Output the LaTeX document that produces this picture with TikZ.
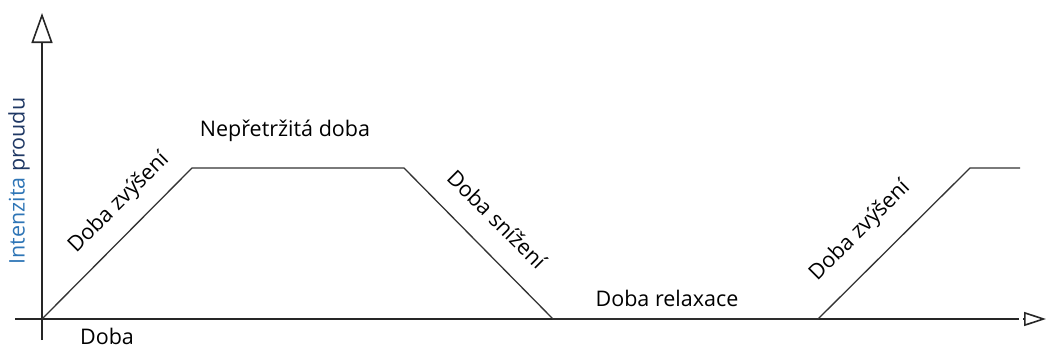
\documentclass[tikz,border=0pt]{standalone}
\usepackage{fontspec}
\setmainfont{Open Sans}
\usetikzlibrary{arrows.meta}
\definecolor{axblue}{RGB}{46,117,182}
\definecolor{axnavy}{RGB}{31,56,100}
\begin{document}
\begin{tikzpicture}[x=1pt, y=-1pt, font=\fontsize{21.5}{24}\selectfont,
		lbl/.style={inner sep=0pt},
		l_1/.style={line width=1.6pt, draw=black!85},
		l_2/.style={line width=1.3pt, draw=black!80}]
	\useasboundingbox (0,0) rectangle (1046,349);
	% axes
	\coordinate (O) at (42,319);
	\coordinate (ytop) at (42,13);
	\coordinate (ybot) at (42,340);
	\coordinate (xl) at (15,319);
	\coordinate (xe) at (1019,319);
	\coordinate (xa) at (1023,319);
	\coordinate (xr) at (1046,319);
	\draw[l_1, -{Triangle[open, length=30pt, width=21pt]}] (ybot) -- (ytop);
	\draw[l_1] (xl) -- (xe);
	\draw[l_1, -{Triangle[open, length=22pt, width=14pt]}] (xa) -- (xr);
	
	% current profile
	\coordinate (a1) at (192,168);
	\coordinate (a2) at (404,168);
	\coordinate (a3) at (553,319);
	\coordinate (a4) at (818,319);
	\coordinate (a5) at (970,168);
	\coordinate (a6) at (1020,168);
	\draw[l_2] (O) -- (a1) -- (a2) -- (a3) -- (a4) -- (a5) -- (a6);
	
	% labels
	\node[lbl, rotate=90] (intens) at (19,181) {\textcolor{axblue}{Intenzita} \textcolor{axnavy}{proudu}};
	\node[lbl] (cont) at (285,131) {Nepřetržitá doba};
	\node[lbl, rotate=45] (rise1) at (119,203) {Doba zvýšení};
	\node[lbl, rotate=-45] (fall) at (497,219) {Doba snížení};
	\node[lbl] (relax) at (667,298) {Doba relaxace};
	\node[lbl, rotate=45] (rise2) at (860,231) {Doba zvýšení};
	\node[lbl] (time) at (107,336) {Doba};
\end{tikzpicture}
\end{document}
